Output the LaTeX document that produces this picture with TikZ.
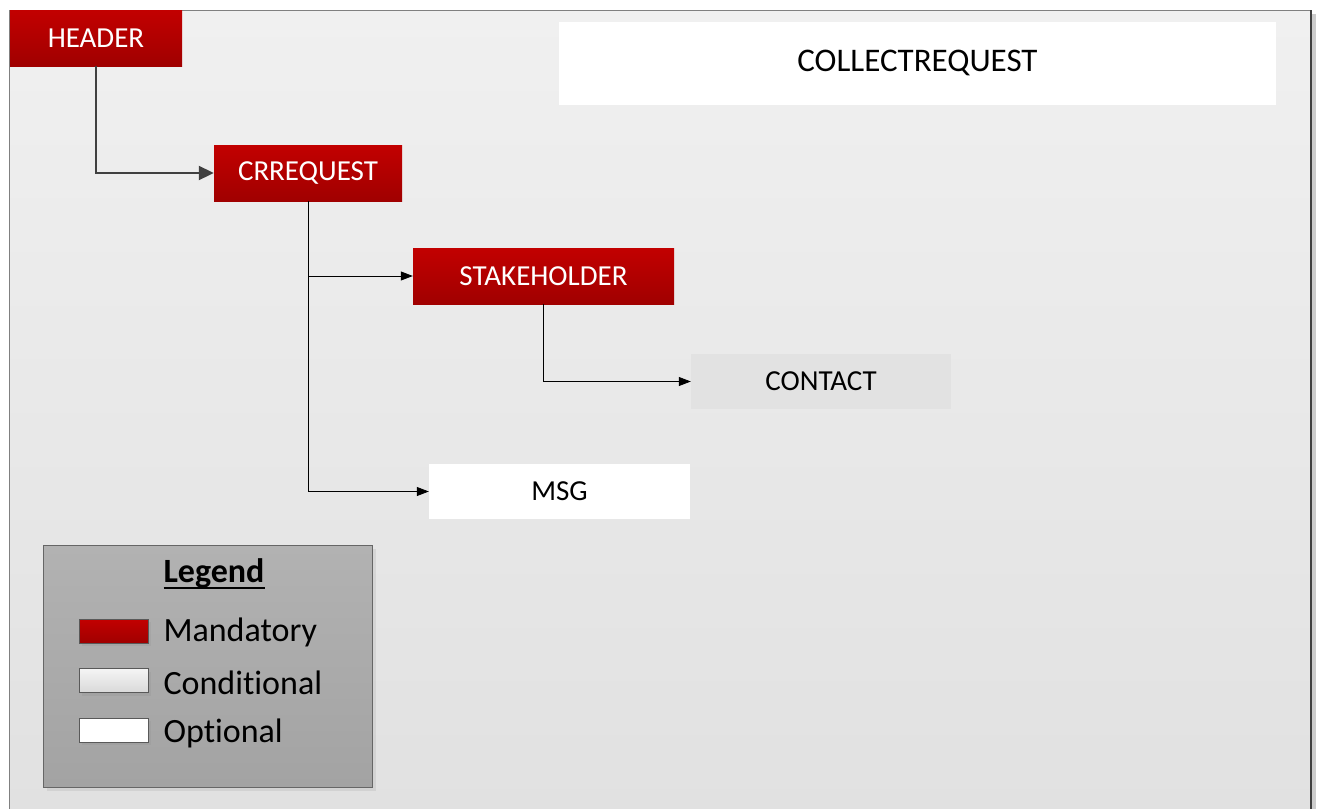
\documentclass[tikz,border=0pt]{standalone}
\usepackage{fontspec}
\setmainfont[Ligatures=CommonOff]{Carlito}
\usetikzlibrary{arrows.meta,shadows}
\definecolor{mandtop}{HTML}{C20000}
\definecolor{mandbot}{HTML}{A00000}
\definecolor{condfill}{HTML}{E2E2E2}
\definecolor{bgtop}{HTML}{F0F0F0}
\definecolor{bgbot}{HTML}{E1E1E1}
\definecolor{legtop}{HTML}{B2B2B2}
\definecolor{legbot}{HTML}{A3A3A3}
\definecolor{darkline}{HTML}{404040}
\begin{document}
\begin{tikzpicture}[x=1pt,y=-1pt,
    box/.style={minimum height=56pt,inner sep=0pt,font=\fontsize{29}{31}\selectfont},
    mandbox/.style={box,top color=mandtop,bottom color=mandbot,text=white},
    condbox/.style={box,fill=condfill,text=black},
    optbox/.style={box,fill=white,text=black},
    link/.style={-{Triangle[length=12pt,width=9pt]},black,line width=0.8pt},
    swatch/.style={draw=gray!70!black,line width=0.8pt,minimum width=69pt,minimum height=24pt,inner sep=0pt,
      drop shadow={opacity=0.15,shadow xshift=3pt,shadow yshift=-3pt}},
    legtext/.style={anchor=west,font=\fontsize{34}{36}\selectfont}]
  \useasboundingbox (0,0) rectangle (1318,809);
  \fill[white] (0,0) rectangle (1318,809);
  \fill[gray!40] (1311,14) rectangle (1316,809);
  \fill[top color=bgtop,bottom color=bgbot] (9,10) rectangle (1311,815);
  \draw[gray,line width=1pt] (9,815) |- (1311,10);
  \draw[darkline,line width=1.6pt] (1311,10) -- (1311,815);
  \node[optbox,minimum width=717pt,minimum height=83pt,font=\fontsize{33}{36}\selectfont] (title) at (917.5,63) {COLLECTREQUEST};
  \node[mandbox,minimum width=172pt] (header) at (96,38) {HEADER};
  \node[mandbox,minimum width=188pt] (crrequest) at (308,173) {CRREQUEST};
  \node[mandbox,minimum width=261pt] (stakeholder) at (543.5,276) {STAKEHOLDER};
  \node[condbox,minimum width=260pt,minimum height=55pt] (contact) at (821,381.5) {CONTACT};
  \node[optbox,minimum width=261pt,minimum height=55pt] (msg) at (559.5,491.5) {MSG};
  \draw[-{Triangle[length=15pt,width=14pt]},darkline,line width=2pt] (header.south) |- (crrequest.west);
  \draw[link] (crrequest.south) |- (stakeholder.west);
  \draw[link] (crrequest.south) |- (msg.west);
  \draw[link] (stakeholder.south) |- (contact.west);
  \node[draw=gray!80!black,line width=1pt,top color=legtop,bottom color=legbot,minimum width=329pt,minimum height=242pt,
    drop shadow={opacity=0.15,shadow xshift=4pt,shadow yshift=-4pt}] (legend) at (207.5,666) {};
  \node[font=\fontsize{34}{36}\selectfont\bfseries] (legtitle) at (214,573) {Legend};
  \draw[line width=1.6pt] (163.5,588) -- (264.5,588);
  \node[swatch,top color=mandtop,bottom color=mandbot] (mandsw) at (113.5,631) {};
  \node[swatch,top color=gray!8,bottom color=gray!30] (condsw) at (113.5,680.5) {};
  \node[swatch,fill=white] (optsw) at (113.5,730) {};
  \node[legtext] (mandlbl) at (160,632) {Mandatory};
  \node[legtext] (condlbl) at (160,683) {Conditional};
  \node[legtext] (optlbl) at (160,733) {Optional};
\end{tikzpicture}
\end{document}
